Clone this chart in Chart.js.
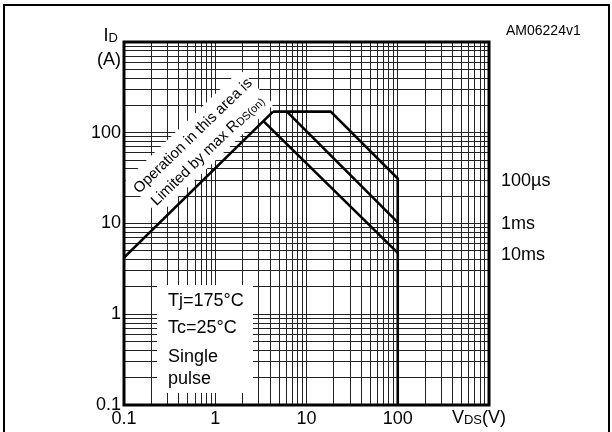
<!DOCTYPE html>
<html>
<head>
<meta charset="utf-8">
<script src="https://cdn.jsdelivr.net/npm/chart.js@4/dist/chart.umd.min.js"></script>
<style>
  html, body { margin: 0; padding: 0; background: #fff; }
  #soa { display: block; }
</style>
</head>
<body>
<canvas id="soa" width="612" height="432"></canvas>
<script>
// drain current vs drain-source voltage, log-log
const xTickLabels = ['0.1', '1', '10', '100'];
const yTickLabels = ['0.1', '1', '10', '100'];

// RDS(on) limit
const rdsV = [0.1, 4.3];
const rdsI = [4.2, 171];
// pulse limits (V, A)
const us100V = [4.3, 18.4, 100, 100];
const us100I = [171, 171, 31.3, 0.1];
const ms1V = [6.1, 100];
const ms1I = [171, 10.3];
const ms10V = [3.35, 100];
const ms10I = [135, 4.75];
const pulseNames = ['100µs', '1ms', '10ms'];

const conditions = ['Tj=175°C', 'Tc=25°C', 'Single', 'pulse'];

const FONT = 'Liberation Sans, Arial, Helvetica, sans-serif';
const SIZE = 18;

function pts(vs, is) {
  return vs.map((v, k) => ({ x: v, y: is[k] }));
}

// 1..9 in every decade between 10^lo and 10^hi
function logGrid(lo, hi) {
  const out = [];
  for (let e = lo; e < hi; e++) {
    for (let m = 1; m < 10; m++) out.push(+(m * Math.pow(10, e)).toPrecision(3));
  }
  out.push(Math.pow(10, hi));
  return out;
}

function tickText(v, labels) {
  const hit = labels.find(l => Math.abs(Math.log10(v) - Math.log10(+l)) < 1e-6);
  return hit || '';
}

// text with subscripts: parts = [[text, isSub], ...]
function richText(c, parts, x, y, size, align) {
  const sub = Math.round(size * 0.72);
  let w = 0;
  parts.forEach(p => {
    c.font = (p[1] ? sub : size) + 'px ' + FONT;
    w += c.measureText(p[0]).width;
  });
  let cx = align === 'center' ? x - w / 2 : align === 'right' ? x - w : x;
  c.textAlign = 'left';
  parts.forEach(p => {
    c.font = (p[1] ? sub : size) + 'px ' + FONT;
    c.fillText(p[0], cx, y + (p[1] ? 1 : 0));
    cx += c.measureText(p[0]).width;
  });
}

const decor = {
  id: 'decor',
  beforeDatasetsDraw(chart) {
    const c = chart.ctx;
    c.save();
    c.fillStyle = '#fff';
    // panel behind the test conditions
    c.fillRect(157, 285, 96, 108);
    // tilted panel behind the RDS(on) note
    c.translate(199.5, 142.5);
    c.rotate(-44 * Math.PI / 180);
    c.fillRect(-80, -24, 160, 48);
    c.restore();
  },
  afterDatasetsDraw(chart) {
    const c = chart.ctx, a = chart.chartArea;
    const ys = chart.scales.y;
    c.save();
    c.strokeStyle = '#000';
    c.lineWidth = 3;
    c.strokeRect(a.left, a.top, a.right - a.left, a.bottom - a.top);
    c.lineWidth = 2;
    c.strokeRect(4, 5, 605, 440);

    c.fillStyle = '#000';
    c.textBaseline = 'alphabetic';

    // axis names
    richText(c, [['I', false], ['D', true]], 118, 41, SIZE, 'right');
    c.font = SIZE + 'px ' + FONT;
    c.textAlign = 'right';
    c.fillText('(A)', 121, 65);
    richText(c, [['V', false], ['DS', true], ['(V)', false]], 479, 423, SIZE, 'center');

    c.font = '14px ' + FONT;
    c.textAlign = 'left';
    c.fillText('AM06224v1', 506, 35);

    // pulse duration labels next to the curve ends
    const ends = [us100I[2], ms1I[1], ms10I[1]];
    c.font = SIZE + 'px ' + FONT;
    pulseNames.forEach((n, k) => {
      c.fillText(n, 501, ys.getPixelForValue(ends[k]) + 7);
    });

    // test conditions
    const rows = [306, 333, 362, 384];
    conditions.forEach((t, k) => c.fillText(t, 168, rows[k]));

    // RDS(on) note
    c.translate(199.5, 142.5);
    c.rotate(-44 * Math.PI / 180);
    c.font = '15px ' + FONT;
    c.textAlign = 'center';
    c.fillText('Operation in this area is', 0, -5);
    richText(c, [['Limited by max R', false], ['DS(on)', true]], 0, 16, 15, 'center');
    c.restore();
  }
};

const lineStyle = {
  showLine: true,
  borderColor: '#000',
  borderWidth: 2.6,
  pointRadius: 0,
  fill: false,
  tension: 0
};

const gridColor = '#222';

new Chart(document.getElementById('soa'), {
  type: 'scatter',
  data: {
    datasets: [
      Object.assign({ label: 'RDS(on)', data: pts(rdsV, rdsI) }, lineStyle),
      Object.assign({ label: pulseNames[0], data: pts(us100V, us100I) }, lineStyle),
      Object.assign({ label: pulseNames[1], data: pts(ms1V, ms1I) }, lineStyle),
      Object.assign({ label: pulseNames[2], data: pts(ms10V, ms10I) }, lineStyle)
    ]
  },
  options: {
    responsive: false,
    animation: false,
    events: [],
    layout: { padding: { top: 42, right: 123, left: 0, bottom: 0 } },
    plugins: { legend: { display: false }, tooltip: { enabled: false } },
    scales: {
      x: {
        type: 'logarithmic',
        min: 0.1,
        max: 1000,
        afterBuildTicks: s => { s.ticks = logGrid(-1, 3).map(v => ({ value: v })); },
        afterFit: s => { s.height = 27; },
        border: { display: false },
        grid: { color: gridColor, lineWidth: 1, drawTicks: false },
        ticks: {
          autoSkip: false, maxRotation: 0, minRotation: 0, padding: 3,
          color: '#000', font: { family: FONT, size: SIZE },
          callback: v => tickText(v, xTickLabels)
        }
      },
      y: {
        type: 'logarithmic',
        min: 0.1,
        max: 1000,
        afterBuildTicks: s => { s.ticks = logGrid(-1, 3).map(v => ({ value: v })); },
        afterFit: s => { s.width = 124; },
        border: { display: false },
        grid: { color: gridColor, lineWidth: 1, drawTicks: false },
        ticks: {
          autoSkip: false, padding: 3,
          color: '#000', font: { family: FONT, size: SIZE },
          callback: v => tickText(v, yTickLabels)
        }
      }
    }
  },
  plugins: [decor]
});
</script>
</body>
</html>
